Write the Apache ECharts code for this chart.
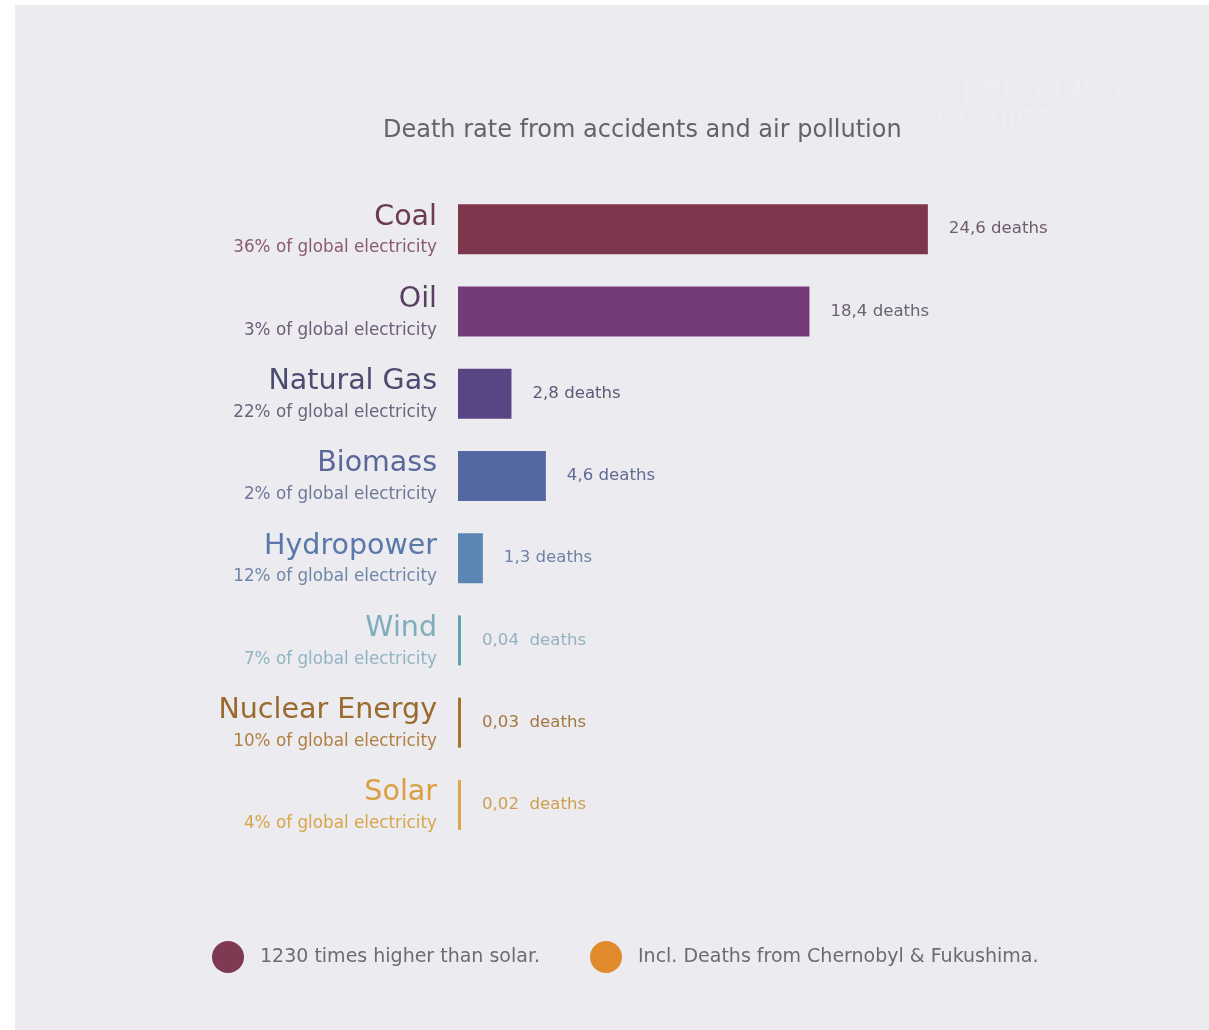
<!DOCTYPE html>
<html>
<head>
<meta charset="utf-8">
<script src="https://cdn.jsdelivr.net/npm/echarts@6/dist/echarts.min.js"></script>
<style>
  html, body { margin: 0; padding: 0; background: #ffffff; }
  #chart { width: 1209px; height: 1030px; }
</style>
</head>
<body>
<div id="chart"></div>
<script>
// Energy sources, top to bottom
const sources = ['Coal', 'Oil', 'Natural Gas', 'Biomass', 'Hydropower', 'Wind', 'Nuclear Energy', 'Solar'];
// Deaths per TWh from accidents and air pollution
const deathRates = [24.6, 18.4, 2.8, 4.6, 1.3, 0.04, 0.03, 0.02];
// Share of global electricity (%)
const electricityShare = [36, 3, 22, 2, 12, 7, 10, 4];

// Palette per source
const barColors   = ['#7e364c', '#743a7a', '#5a4584', '#5467a0', '#5b86b4', '#62a2b0', '#a8722c', '#e2a44a'];
const nameColors  = ['#6e3a52', '#5a3f62', '#4c4b70', '#5a6898', '#5a79aa', '#80adbb', '#9a6a2e', '#d9a040'];
const subColors   = ['#8a5a70', '#6e5c78', '#66667f', '#6e7898', '#6f86a8', '#90b5c2', '#b08040', '#d8a54a'];
const valueColors = ['#6e5c6c', '#6c6272', '#5c5a7a', '#626c92', '#6f84a6', '#94b2c2', '#a27a40', '#cf9f50'];

const notes = ['1230 times higher than solar.', 'Incl. Deaths from Chernobyl & Fukushima.'];
const noteColors = ['#7e3a52', '#e08a2c'];

const FONT = '"DejaVu Sans", sans-serif';

function fmtValue(v) {
  const small = v < 0.1;
  return v.toFixed(small ? 2 : 1).replace('.', ',') + (small ? '  deaths' : ' deaths');
}

const rich = {};
sources.forEach((s, i) => {
  rich['n' + i] = { fontFamily: FONT, fontSize: 28.5, color: nameColors[i], lineHeight: 38, align: 'right' };
  rich['s' + i] = { fontFamily: FONT, fontSize: 16.8, color: subColors[i], lineHeight: 24, align: 'right' };
});

const chart = echarts.init(document.getElementById('chart'));

chart.setOption({
  backgroundColor: '#ffffff',
  animation: false,
  title: {
    text: 'Death rate from accidents and air pollution',
    left: 378,
    top: 114,
    textStyle: { fontFamily: FONT, fontSize: 24, fontWeight: 'normal', color: '#62636b' }
  },
  grid: { left: 458, right: 178, top: 188, bottom: 184 },
  xAxis: { type: 'value', min: 0, max: 30, show: false },
  yAxis: {
    type: 'category',
    inverse: true,
    data: sources,
    axisLine: { show: false },
    axisTick: { show: false },
    splitLine: { show: false },
    axisLabel: {
      margin: 21,
      align: 'right',
      formatter: (value, idx) => `{n${idx}|${value}}\n{s${idx}|${electricityShare[idx]}% of global electricity}`,
      rich: rich
    }
  },
  series: [{
    type: 'bar',
    data: deathRates.map((v, i) => ({
      value: v,
      itemStyle: { color: barColors[i] },
      label: { color: valueColors[i] }
    })),
    barWidth: 50,
    barMinHeight: 3,
    label: {
      show: true,
      position: 'right',
      distance: 21,
      fontFamily: FONT,
      fontSize: 16.6,
      formatter: p => fmtValue(p.value)
    }
  }],
  graphic: [
    { type: 'rect', z: -10, shape: { x: 15, y: 5, width: 1194, height: 1025 }, style: { fill: '#ebebf0' } },
    // faint brand mark
    { type: 'text', x: 925, y: 72, style: { text: 'copenhagen', fontFamily: FONT, fontSize: 32, fill: 'rgba(255,255,255,0.18)' } },
    { type: 'text', x: 925, y: 103, style: { text: 'atomics', fontFamily: FONT, fontSize: 32, fill: 'rgba(255,255,255,0.18)' } },
    // notes
    { type: 'circle', shape: { cx: 228, cy: 957, r: 16 }, style: { fill: noteColors[0] } },
    { type: 'text', x: 260, y: 957, style: { text: notes[0], fontFamily: FONT, fontSize: 19, fill: '#6b6b72', verticalAlign: 'middle' } },
    { type: 'circle', shape: { cx: 606, cy: 957, r: 16 }, style: { fill: noteColors[1] } },
    { type: 'text', x: 638, y: 957, style: { text: notes[1], fontFamily: FONT, fontSize: 19, fill: '#6b6b72', verticalAlign: 'middle' } }
  ]
});
</script>
</body>
</html>
